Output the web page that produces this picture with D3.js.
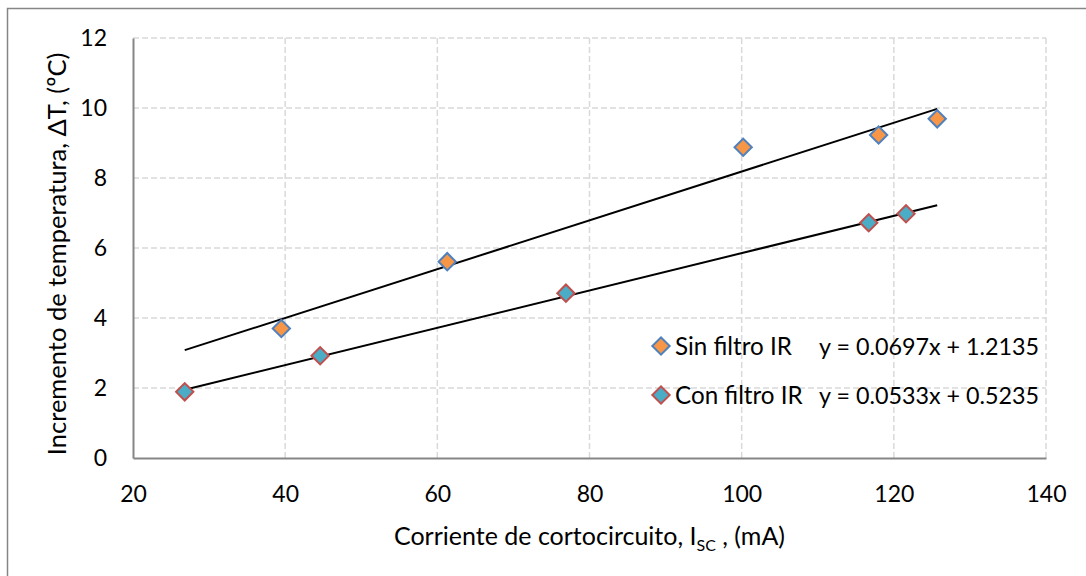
<!DOCTYPE html>
<html><head><meta charset="utf-8">
<script src="https://cdn.jsdelivr.net/npm/d3@7"></script>
<style>body{margin:0;background:#fff}svg{display:block}text{font-family:Lato,"Open Sans",sans-serif;fill:#000}</style>
</head><body><svg id="c" width="1086" height="576"></svg>
<script>
const sinX = [39.5, 61.3, 100.2, 118.0, 125.7];
const sinY = [3.70, 5.61, 8.88, 9.23, 9.69];
const conX = [26.8, 44.6, 76.9, 116.7, 121.6];
const conY = [1.89, 2.92, 4.71, 6.72, 6.98];
const seriesNames = ["Sin filtro IR", "Con filtro IR"];
const slopes = [0.0697, 0.0533];
const intercepts = [1.2135, 0.5235];
const equations = ["y = 0.0697x + 1.2135", "y = 0.0533x + 0.5235"];
const xTicks = [20, 40, 60, 80, 100, 120, 140];
const yTicks = [0, 2, 4, 6, 8, 10, 12];

const svg = d3.select("#c");
const m = {l:133, t:38, r:1046, b:458};
const x = d3.scaleLinear().domain([20,140]).range([m.l, m.r]);
const y = d3.scaleLinear().domain([0,12]).range([m.b, m.t]);
const TICK_FS = 23;

svg.append("rect").attr("x",7.5).attr("y",8.5).attr("width",1200).attr("height",700)
  .attr("fill","#fff").attr("stroke","#868686").attr("stroke-width",1.5);

const grid = svg.append("g");
grid.selectAll("line.v").data(xTicks.slice(1)).join("line")
  .attr("x1",d=>x(d)).attr("x2",d=>x(d)).attr("y1",m.t).attr("y2",m.b)
  .attr("stroke","#d9d9d9").attr("stroke-width",1.5).attr("stroke-dasharray","6,3");
grid.selectAll("line.h").data(yTicks.slice(1)).join("line")
  .attr("x1",m.l).attr("x2",m.r).attr("y1",d=>y(d)).attr("y2",d=>y(d))
  .attr("stroke","#d9d9d9").attr("stroke-width",1.5).attr("stroke-dasharray","6,3");

const xAxis = svg.append("g").attr("transform",`translate(0,${m.b})`)
  .call(d3.axisBottom(x).tickValues(xTicks).tickSize(0).tickPadding(27.5));
const yAxis = svg.append("g").attr("transform",`translate(${m.l},0)`)
  .call(d3.axisLeft(y).tickValues(yTicks).tickSize(0).tickPadding(26));
[xAxis,yAxis].forEach(a=>{
  a.select(".domain").attr("stroke","#868686").attr("stroke-width",2);
  a.selectAll("text").style("font-family","Lato").style("font-size",TICK_FS+"px").attr("fill","#000");
});
xAxis.selectAll("text").attr("dy","0.71em");

// trendlines
const xr = d3.extent(sinX.concat(conX));
const line = d3.line().x(d=>x(d[0])).y(d=>y(d[1]));
slopes.forEach((s,i)=>{
  svg.append("path").attr("d",line(xr.map(v=>[v, s*v+intercepts[i]])))
    .attr("fill","none").attr("stroke","#000").attr("stroke-width",2);
});

const diamond = d3.symbol().type(d3.symbolSquare).size(150);
const styles = [{fill:"#F79646",stroke:"#4F81BD"},{fill:"#4BACC6",stroke:"#C0504D"}];
const sets = [d3.zip(sinX,sinY), d3.zip(conX,conY)];
sets.forEach((pts,i)=>{
  svg.append("g").selectAll("path").data(pts).join("path")
    .attr("d",diamond).attr("transform",d=>`translate(${x(d[0])},${y(d[1])}) rotate(45)`)
    .attr("fill",styles[i].fill).attr("stroke",styles[i].stroke).attr("stroke-width",2);
});

// legend
const lg = svg.append("g");
const legY = [346, 395];
seriesNames.forEach((n,i)=>{
  lg.append("path").attr("d",diamond).attr("transform",`translate(661,${legY[i]}) rotate(45)`)
    .attr("fill",styles[i].fill).attr("stroke",styles[i].stroke).attr("stroke-width",2);
  lg.append("text").attr("x",675).attr("y",legY[i]+9).style("font-size","24.2px").text(n);
  lg.append("text").attr("x",819).attr("y",legY[i]+9).style("font-size","23.3px").text(equations[i]);
});

// axis titles
const xt = svg.append("text").attr("x",(m.l+m.r)/2).attr("y",545).attr("text-anchor","middle").style("font-size","25px");
xt.append("tspan").text("Corriente de cortocircuito, I");
xt.append("tspan").attr("dy",6).style("font-size","16px").text("SC");
xt.append("tspan").attr("dy",-6).text(" , (mA)");
svg.append("text").attr("transform","translate(66,254) rotate(-90)").attr("text-anchor","middle")
  .style("font-size","25.5px").text("Incremento de temperatura, ΔT, (ºC)");
</script></body></html>
